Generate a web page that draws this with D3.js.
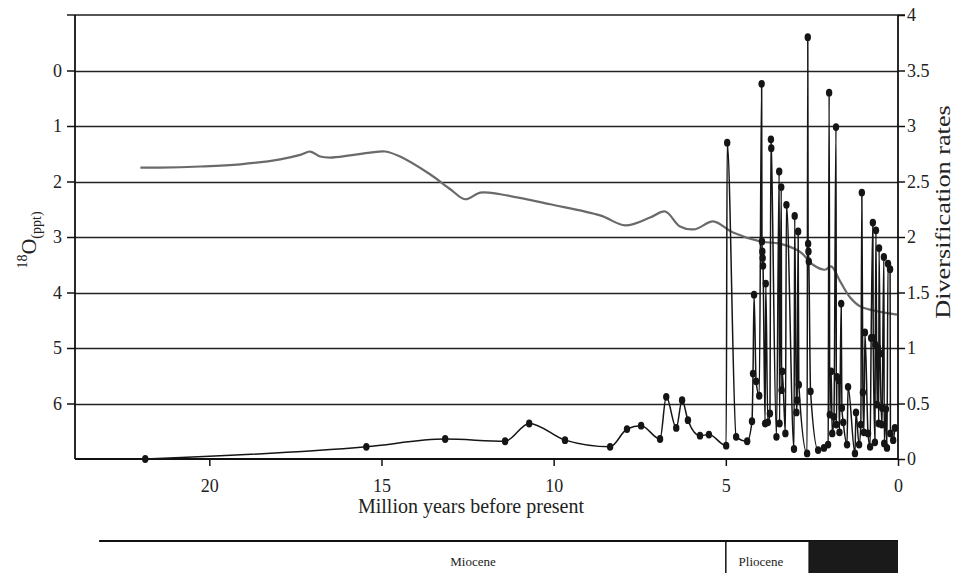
<!DOCTYPE html>
<html>
<head>
<meta charset="utf-8">
<script src="https://cdn.jsdelivr.net/npm/d3@7"></script>
<style>
  html, body { margin: 0; padding: 0; background: #fff; }
  svg { display: block; font-family: "Liberation Serif", "DejaVu Serif", serif; }
</style>
</head>
<body>
<svg id="chart" width="955" height="573"></svg>
<script>
// ---- data ----
const xTickValues = [20, 15, 10, 5, 0];
const leftTickValues = [0, 1, 2, 3, 4, 5, 6];
const rightTickValues = [0, 0.5, 1, 1.5, 2, 2.5, 3, 3.5, 4];

// delta 18O curve (Ma, ppt)
const o18Time = [22.0, 21.42, 20.26, 19.1, 17.94, 17.36, 17.07, 16.78, 16.49, 15.91, 15.33, 14.89, 14.46, 13.59, 13.0, 12.57, 12.13, 11.55, 10.1, 8.65, 7.92, 7.2, 6.76, 6.33, 5.89, 5.37, 4.79, 4.0, 3.43, 2.84, 2.47, 2.12, 1.94, 1.68, 1.39, 1.1, 0.73, 0.03];
const o18Value = [1.75, 1.75, 1.73, 1.69, 1.6, 1.52, 1.46, 1.55, 1.57, 1.53, 1.48, 1.46, 1.55, 1.87, 2.14, 2.32, 2.2, 2.23, 2.41, 2.61, 2.79, 2.65, 2.54, 2.81, 2.86, 2.72, 2.92, 3.08, 3.12, 3.27, 3.5, 3.59, 3.53, 3.8, 4.09, 4.25, 4.32, 4.4];

// diversification rates (Ma, rate)
const divTime = [21.86, 15.44, 13.15, 11.41, 10.71, 9.67, 8.36, 7.87, 7.46, 6.91, 6.73, 6.44, 6.27, 6.10, 5.75, 5.49, 4.99, 4.96, 4.70, 4.38, 4.24, 4.21, 4.18, 4.12, 4.03, 3.96, 3.95, 3.94, 3.93, 3.92, 3.86, 3.84, 3.78, 3.72, 3.69, 3.68, 3.53, 3.45, 3.44, 3.39, 3.38, 3.36, 3.27, 3.24, 3.02, 3.00, 2.95, 2.93, 2.90, 2.88, 2.64, 2.62, 2.61, 2.60, 2.59, 2.54, 2.32, 2.15, 2.03, 2.00, 1.98, 1.94, 1.91, 1.86, 1.80, 1.79, 1.77, 1.72, 1.70, 1.65, 1.63, 1.59, 1.48, 1.45, 1.25, 1.22, 1.13, 1.08, 1.05, 1.02, 0.99, 0.96, 0.87, 0.81, 0.78, 0.73, 0.72, 0.67, 0.66, 0.64, 0.61, 0.58, 0.56, 0.55, 0.52, 0.47, 0.46, 0.41, 0.40, 0.35, 0.32, 0.29, 0.23, 0.22, 0.14, 0.09];
const divValue = [0.0, 0.11, 0.18, 0.16, 0.32, 0.17, 0.11, 0.27, 0.30, 0.18, 0.56, 0.28, 0.53, 0.35, 0.21, 0.22, 0.12, 2.85, 0.20, 0.16, 0.34, 0.77, 1.48, 0.70, 0.57, 3.38, 1.96, 1.87, 1.81, 1.74, 0.32, 1.58, 0.33, 0.41, 2.88, 2.80, 0.20, 2.59, 0.32, 2.45, 0.62, 0.79, 0.23, 2.29, 0.09, 2.19, 0.42, 0.53, 2.05, 0.67, 0.05, 3.80, 1.94, 1.87, 1.78, 0.61, 0.08, 0.10, 0.13, 3.30, 0.40, 0.79, 0.23, 0.38, 2.99, 0.31, 0.74, 0.71, 0.24, 1.40, 0.46, 0.33, 0.13, 0.65, 0.05, 0.42, 0.13, 0.31, 2.40, 0.60, 0.24, 1.14, 0.23, 0.11, 1.09, 2.13, 1.09, 0.15, 1.03, 2.06, 0.49, 1.00, 0.32, 1.90, 0.95, 0.31, 0.46, 1.82, 0.14, 0.45, 0.10, 1.76, 1.71, 0.23, 0.17, 0.28];

// geologic epochs (start Ma, end Ma, label, filled)
const epochNames = ["Miocene", "Pliocene", ""];
const epochStart = [23.2, 5.0, 2.58];
const epochEnd = [5.0, 2.58, 0];
const epochFilled = [false, false, true];

// ---- layout ----
const svg = d3.select("#chart");
const pLeft = 75, pRight = 898, pTop = 15, pBottom = 459;

const x = d3.scaleLinear().domain([23.9, 0]).range([pLeft, pRight]);
const yL = d3.scaleLinear().domain([-1, 7]).range([pTop, pBottom]);
const yR = d3.scaleLinear().domain([0, 4]).range([pBottom, pTop]);

// grid lines
svg.append("g").selectAll("line").data(leftTickValues).join("line")
  .attr("x1", pLeft).attr("x2", pRight)
  .attr("y1", d => Math.round(yL(d)) + 0.5).attr("y2", d => Math.round(yL(d)) + 0.5)
  .attr("stroke", "#222").attr("stroke-width", 1.3);

// top line
svg.append("line").attr("x1", pLeft - 8).attr("x2", pRight + 7)
  .attr("y1", yR(4)).attr("y2", yR(4))
  .attr("stroke", "#555").attr("stroke-width", 1.8);

// left axis
const gL = svg.append("g").attr("transform", `translate(${pLeft},0)`)
  .call(d3.axisLeft(yL).tickValues(leftTickValues).tickSize(8).tickPadding(5).tickSizeOuter(0));
gL.select(".domain").remove();
gL.selectAll(".tick line").attr("stroke", "#111").attr("stroke-width", 1.5);
gL.selectAll(".tick text").attr("font-size", 18).attr("fill", "#222").attr("font-family", "Liberation Serif");

// right axis
const gR = svg.append("g").attr("transform", `translate(${pRight},0)`)
  .call(d3.axisRight(yR).tickValues(rightTickValues).tickSize(7).tickPadding(2).tickFormat(d3.format("")));
gR.select(".domain").remove();
gR.selectAll(".tick line").attr("stroke", "#111").attr("stroke-width", 1.5);
gR.selectAll(".tick text").attr("font-size", 18).attr("fill", "#222").attr("font-family", "Liberation Serif");

// bottom axis
const gB = svg.append("g").attr("transform", `translate(0,${pBottom})`)
  .call(d3.axisBottom(x).tickValues(xTickValues).tickSize(7).tickPadding(13));
gB.select(".domain").remove();
gB.selectAll(".tick line").attr("stroke", "#111").attr("stroke-width", 1.5);
gB.selectAll(".tick text").attr("font-size", 18).attr("fill", "#222").attr("font-family", "Liberation Serif");

// frame lines
svg.append("line").attr("x1", pLeft).attr("x2", pLeft).attr("y1", pTop).attr("y2", pBottom)
  .attr("stroke", "#111").attr("stroke-width", 1.8);
svg.append("line").attr("x1", pRight).attr("x2", pRight).attr("y1", pTop).attr("y2", pBottom)
  .attr("stroke", "#111").attr("stroke-width", 1.8);
svg.append("line").attr("x1", pLeft).attr("x2", pRight).attr("y1", pBottom).attr("y2", pBottom)
  .attr("stroke", "#111").attr("stroke-width", 1.8);

// delta 18O line
const o18 = o18Time.map((t, i) => [t, o18Value[i]]);
svg.append("path").datum(o18)
  .attr("fill", "none").attr("stroke", "#6a6a6a").attr("stroke-width", 2.2)
  .attr("d", d3.line().x(d => x(d[0])).y(d => yL(d[1])).curve(d3.curveCatmullRom.alpha(0.5)));

// diversification line + dots
const div = divTime.map((t, i) => [t, divValue[i]]);
svg.append("path").datum(div)
  .attr("fill", "none").attr("stroke", "#151515").attr("stroke-width", 1.5)
  .attr("stroke-linejoin", "round")
  .attr("d", d3.line().x(d => x(d[0])).y(d => yR(d[1])).curve(d3.curveMonotoneX));
svg.append("g").selectAll("ellipse").data(div).join("ellipse")
  .attr("cx", d => x(d[0])).attr("cy", d => yR(d[1]))
  .attr("rx", 3.2).attr("ry", 3.9).attr("fill", "#151515");

// axis titles
const lt = svg.append("text").attr("transform", "translate(36,240) rotate(-90)")
  .attr("text-anchor", "middle").attr("fill", "#222").attr("font-size", 22);
lt.append("tspan").attr("font-size", 14).attr("dy", -9).text("18");
lt.append("tspan").attr("dy", 9).text("O");
lt.append("tspan").attr("font-size", 14).attr("dy", 5).text("(ppt)");

svg.append("text").attr("transform", "translate(950,212) rotate(-90) scale(1.25,1)")
  .attr("text-anchor", "middle").attr("fill", "#222").attr("font-size", 21)
  .text("Diversification rates");

svg.append("text").attr("x", 471).attr("y", 513)
  .attr("text-anchor", "middle").attr("fill", "#222").attr("font-size", 20)
  .text("Million years before present");

// epoch bar
const barTop = 541;
svg.append("line").attr("x1", x(epochStart[0])).attr("x2", x(0))
  .attr("y1", barTop).attr("y2", barTop).attr("stroke", "#111").attr("stroke-width", 2);
epochStart.forEach((s, i) => {
  if (epochFilled[i]) {
    svg.append("rect").attr("x", x(s)).attr("y", barTop).attr("width", x(epochEnd[i]) - x(s))
      .attr("height", 573 - barTop).attr("fill", "#1a1a1a");
  }
  if (i > 0) {
    svg.append("line").attr("x1", x(s)).attr("x2", x(s)).attr("y1", barTop).attr("y2", 573)
      .attr("stroke", "#111").attr("stroke-width", 1.5);
  }
});
svg.append("text").attr("x", 473).attr("y", 566).attr("text-anchor", "middle")
  .attr("font-size", 13).attr("fill", "#222").text(epochNames[0]);
svg.append("text").attr("x", 761).attr("y", 566).attr("text-anchor", "middle")
  .attr("font-size", 13).attr("fill", "#222").text(epochNames[1]);
</script>
</body>
</html>
